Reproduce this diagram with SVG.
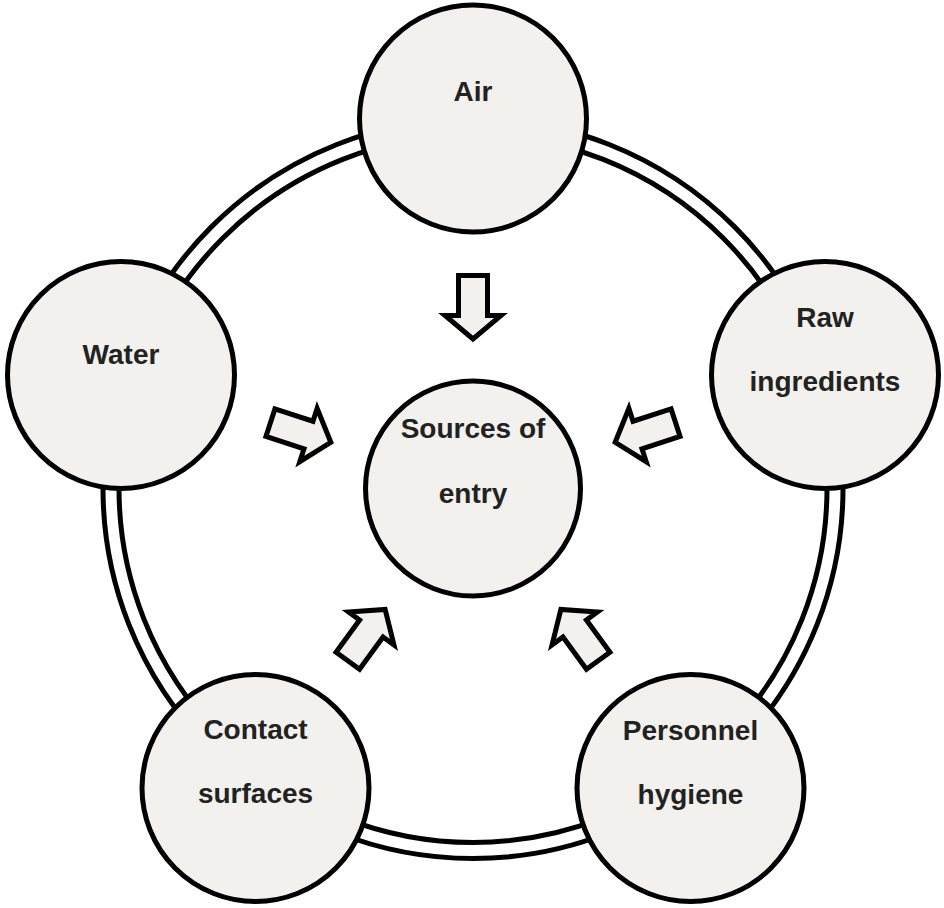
<svg xmlns="http://www.w3.org/2000/svg" width="944" height="908" viewBox="0 0 944 908">
  <defs>
    <style>
      .ring { fill: none; stroke: #000; stroke-width: 5; }
      .node { fill: #f2f1ed; stroke: #000; stroke-width: 5; }
      .arrow { fill: #f2f1ed; stroke: #000; stroke-width: 5; stroke-linejoin: miter; }
      .lbl { font-family: "Liberation Sans", Arial, sans-serif; font-size: 28px; font-weight: bold; fill: #222; text-anchor: middle; }
    </style>
    <path id="arr" d="M 458.5 275.5 H 487.5 V 315.5 H 501 L 473 339 L 445 315.5 H 458.5 Z"/>
  </defs>
  <rect width="944" height="908" fill="#fff"/>
  <g id="ring">
    <circle class="ring" cx="473" cy="488.5" r="370"/>
    <circle class="ring" cx="473" cy="488.5" r="354"/>
  </g>
  <g id="connectors">
    <use href="#arr" class="arrow" transform="rotate(0 473 488.5)"/>
    <use href="#arr" class="arrow" transform="rotate(72 473 488.5)"/>
    <use href="#arr" class="arrow" transform="rotate(144 473 488.5)"/>
    <use href="#arr" class="arrow" transform="rotate(216 473 488.5)"/>
    <use href="#arr" class="arrow" transform="rotate(288 473 488.5)"/>
  </g>
  <g id="air">
    <circle class="node" cx="473" cy="118.5" r="113.5"/>
    <text class="lbl" x="473" y="101">Air</text>
  </g>
  <g id="water">
    <circle class="node" cx="121" cy="375" r="113.5"/>
    <text class="lbl" x="121" y="364">Water</text>
  </g>
  <g id="raw-ingredients">
    <circle class="node" cx="825" cy="375" r="113.5"/>
    <text class="lbl" x="825" y="327">Raw</text>
    <text class="lbl" x="825" y="391">ingredients</text>
  </g>
  <g id="contact-surfaces">
    <circle class="node" cx="255.5" cy="788" r="113.5"/>
    <text class="lbl" x="255.5" y="739">Contact</text>
    <text class="lbl" x="255.5" y="803">surfaces</text>
  </g>
  <g id="personnel-hygiene">
    <circle class="node" cx="690.5" cy="788" r="113.5"/>
    <text class="lbl" x="690.5" y="740">Personnel</text>
    <text class="lbl" x="690.5" y="804">hygiene</text>
  </g>
  <g id="sources-of-entry">
    <circle class="node" cx="473" cy="488.5" r="107.5"/>
    <text class="lbl" x="473" y="438">Sources of</text>
    <text class="lbl" x="473" y="503">entry</text>
  </g>
</svg>
